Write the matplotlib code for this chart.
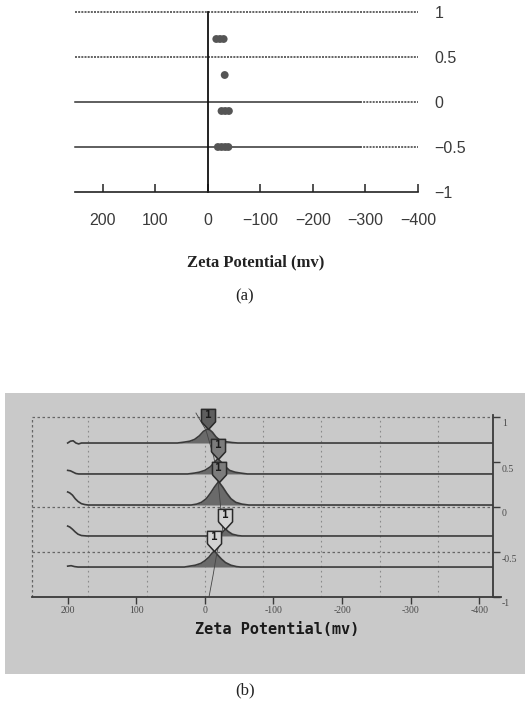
import matplotlib
matplotlib.use('Agg')
import matplotlib.pyplot as plt
from matplotlib.patches import Rectangle
import matplotlib.transforms as mtransforms
import numpy as np

W, H = 531, 706

# ---------------- panel (a) data ----------------
a_xticks = [200, 100, 0, -100, -200, -300, -400]
a_xticklabels = ['200', '100', '0', '\u2212100', '\u2212200', '\u2212300', '\u2212400']
a_yticks = [1, 0.5, 0, -0.5, -1]
a_yticklabels = ['1', '0.5', '0', '\u22120.5', '\u22121']
a_dot_x = [-16, -23, -30, -32, -26, -33, -40, -19, -26, -33, -39]
a_dot_y = [0.7, 0.7, 0.7, 0.3, -0.1, -0.1, -0.1, -0.5, -0.5, -0.5, -0.5]
a_dotted_levels = [1, 0.5]
a_solid_levels = [0, -0.5]

# ---------------- panel (b) data ----------------
b_xticks = [200, 100, 0, -100, -200, -300, -400]
b_xticklabels = ['200', '100', '0', '-100', '-200', '-300', '-400']
b_yticks = [1, 0.5, 0, -0.5, -1]
b_yticklabels = ['1', '0.5', '0', '-0.5', '-1']
b_vgrid = [170, 85, 0, -85, -170, -255, -340]
b_hgrid = [1, 0, -0.5]
b_baselines = [0.711, 0.367, 0.022, -0.322, -0.667]

t1_x = [200, 196, 192, 188, 184, 180, 40, 30, 22, 15, 8, 2, -5, -11, -16, -22, -30, -40, -48, -420]
t1_dy = [0.0, 0.02, 0.025, 0.0, -0.01, 0.0, 0.0, 0.01, 0.02, 0.04, 0.08, 0.13, 0.16, 0.12, 0.07, 0.03, 0.015, 0.005, 0.0, 0.0]
t2_x = [200, 196, 192, 188, 184, 25, 15, 8, 0, -8, -14, -19, -24, -30, -36, -44, -52, -62, -420]
t2_dy = [0.04, 0.035, 0.02, 0.005, 0.0, 0.0, 0.01, 0.02, 0.04, 0.08, 0.13, 0.17, 0.13, 0.08, 0.04, 0.02, 0.01, 0.0, 0.0]
t3_x = [200, 197, 193, 189, 185, 180, 175, 170, 20, 12, 5, -2, -8, -14, -20, -26, -32, -38, -45, -54, -64, -420]
t3_dy = [0.145, 0.135, 0.11, 0.07, 0.04, 0.015, 0.005, 0.0, 0.0, 0.01, 0.03, 0.07, 0.13, 0.2, 0.26, 0.2, 0.13, 0.07, 0.03, 0.01, 0.0, 0.0]
t4_x = [200, 197, 193, 189, 185, 180, 172, -18, -23, -27, -30, -34, -40, -48, -54, -420]
t4_dy = [0.11, 0.10, 0.075, 0.045, 0.02, 0.005, 0.0, 0.0, 0.02, 0.05, 0.08, 0.05, 0.02, 0.005, 0.0, 0.0]
t5_x = [200, 195, 190, 185, 30, 22, 14, 6, 0, -6, -10, -14, -18, -24, -30, -38, -46, -52, -420]
t5_dy = [0.01, 0.015, 0.005, 0.0, 0.0, 0.01, 0.02, 0.04, 0.07, 0.11, 0.15, 0.18, 0.14, 0.09, 0.05, 0.02, 0.005, 0.0, 0.0]
traces_x = [t1_x, t2_x, t3_x, t4_x, t5_x]
traces_dy = [t1_dy, t2_dy, t3_dy, t4_dy, t5_dy]

b_badge_x = [-5, -19, -20, -30, -14]
b_badge_y = [0.871, 0.537, 0.282, -0.242, -0.487]
b_badge_fill = ['#5e5e5e', '#7c7c7c', '#7c7c7c', '#d4d4d4', '#d4d4d4']
b_badge_text = ['1', '1', '1', '1', '1']

trend_x = [13, -1.5, -13, -19, -23, -26, -17.5, -12, -6]
trend_y = [1.044, 0.856, 0.556, 0.30, 0.0, -0.256, -0.51, -0.756, -1.0]

# ---------------- figure ----------------
fig = plt.figure(figsize=(W / 100, H / 100), dpi=100)
fig.patch.set_facecolor('white')

def fx(px):
    return px / W

def fy(py):
    return 1 - py / H

# ---- panel (a) ----
axa = fig.add_axes([fx(75), fy(192), (418 - 75) / W, (192 - 12) / H])
axa.set_xlim(253, -400)
axa.set_ylim(-1, 1)
axa.patch.set_alpha(0)
for s in ['top', 'left', 'right']:
    axa.spines[s].set_visible(False)
axa.spines['bottom'].set_color('#222222')
axa.spines['bottom'].set_linewidth(1.2)

for lv in a_dotted_levels:
    axa.plot([253, -400], [lv, lv], color='#4a4a4a', lw=1.2, ls=(0, (1.2, 0.7)), clip_on=False)
for lv in a_solid_levels:
    axa.plot([253, -290], [lv, lv], color='#333333', lw=1.1, clip_on=False)
    axa.plot([-290, -400], [lv, lv], color='#4a4a4a', lw=1.2, ls=(0, (1.2, 0.7)), clip_on=False)
axa.plot([0, 0], [-1, 1], color='#111111', lw=1.3, clip_on=False)

axa.scatter(a_dot_x, a_dot_y, s=32, color='#555555', edgecolors='none', zorder=3)

axa.set_xticks(a_xticks)
axa.set_xticklabels(a_xticklabels)
axa.yaxis.tick_right()
axa.set_yticks(a_yticks)
axa.set_yticklabels(a_yticklabels)
axa.tick_params(axis='x', direction='in', length=6, width=1.1, color='#222222',
                pad=15, labelsize=11.5, labelcolor='#3a3a3a')
axa.tick_params(axis='y', length=0, pad=12, labelsize=11.5, labelcolor='#3a3a3a')
for lab in axa.get_xticklabels() + axa.get_yticklabels():
    lab.set_fontfamily('Liberation Sans')
axa.set_xlabel('Zeta Potential (mv)', fontfamily='Liberation Serif', fontweight='bold',
               fontsize=12, color='#222222')
axa.xaxis.set_label_coords((256 - 75) / (418 - 75), (192 - 262) / 180)
axa.xaxis.label.set_va('center')

fig.text(fx(245), fy(296), '(a)', ha='center', va='center', fontsize=12,
         fontfamily='Liberation Serif', color='#222222')

# ---- panel (b) background ----
bg = Rectangle((fx(5), fy(674)), 520 / W, (674 - 393) / H,
               transform=fig.transFigure, facecolor='#c9c9c9',
               edgecolor='none', zorder=-5)
fig.patches.append(bg)

axb = fig.add_axes([fx(32), fy(597), (493 - 32) / W, (597 - 408) / H])
axb.set_zorder(2)
axb.set_xlim(252, -420)
axb.set_ylim(-1, 1.1)
axb.patch.set_alpha(0)
axb.spines['top'].set_visible(False)
axb.spines['left'].set_visible(False)
axb.spines['right'].set_bounds(-1, 1.02)
axb.spines['bottom'].set_bounds(252, -431)
for s in ['right', 'bottom']:
    axb.spines[s].set_color('#3a3a3a')
    axb.spines[s].set_linewidth(1.3)

for gx in b_vgrid:
    axb.plot([gx, gx], [-1, 1], color='#8a8a8a', lw=0.8, ls=(0, (1.5, 3)), zorder=1)
for gy in b_hgrid:
    axb.plot([252, -420], [gy, gy], color='#666666', lw=0.9, ls=(0, (2, 2)), zorder=1)
axb.plot([252, 252], [-1, 1], color='#666666', lw=0.9, ls=(0, (2, 2)), zorder=1, clip_on=False)

for tx, tdy, base in zip(traces_x, traces_dy, b_baselines):
    tx = np.array(tx, dtype=float)
    ty = base + np.array(tdy, dtype=float)
    axb.fill_between(tx, base, ty, where=tx < 100, color='#6a6a6a', lw=0, zorder=2)
    axb.plot(tx, ty, color='#3a3a3a', lw=1.2, zorder=3)

axb.plot(trend_x, trend_y, color='#444444', lw=0.6, zorder=4, clip_on=False)

badge_verts = [(-0.35, 0.38), (-0.35, 1.0), (0.35, 1.0), (0.35, 0.38), (0.0, 0.0), (-0.35, 0.38)]
ms = 29
for bx, by, bf, bt in zip(b_badge_x, b_badge_y, b_badge_fill, b_badge_text):
    axb.plot([bx], [by], marker=badge_verts, markersize=ms, markerfacecolor=bf,
             markeredgecolor='#2a2a2a', markeredgewidth=1.1, ls='none', zorder=5, clip_on=False)
    axb.annotate(bt, xy=(bx, by), xytext=(0, 0.69 * 0.5 * ms), textcoords='offset points',
                 ha='center', va='center', fontsize=8, fontweight='bold',
                 fontfamily='DejaVu Sans Mono', color='#1a1a1a', zorder=6)

axb.set_xticks(b_xticks)
axb.set_xticklabels(b_xticklabels)
axb.yaxis.tick_right()
axb.set_yticks(b_yticks)
axb.set_yticklabels(b_yticklabels)
axb.tick_params(axis='x', direction='out', length=5, width=1.0, color='#3a3a3a',
                pad=1.5, labelsize=7, labelcolor='#4a4a4a')
axb.tick_params(axis='y', direction='out', length=5, width=1.0, color='#3a3a3a',
                pad=1.5, labelsize=7, labelcolor='#4a4a4a')
for lab in axb.get_xticklabels() + axb.get_yticklabels():
    lab.set_fontfamily('Liberation Serif')
off = mtransforms.ScaledTranslation(0, -6 / 100, fig.dpi_scale_trans)
for lab in axb.get_yticklabels():
    lab.set_transform(lab.get_transform() + off)

axb.set_xlabel('Zeta Potential(mv)', fontfamily='DejaVu Sans Mono', fontweight='bold',
               fontsize=11, color='#1a1a1a')
axb.xaxis.set_label_coords((277 - 32) / (493 - 32), (597 - 630) / (597 - 408))
axb.xaxis.label.set_va('center')

fig.text(fx(245), fy(690), '(b)', ha='center', va='center', fontsize=12,
         fontfamily='Liberation Serif', color='#222222')

fig.savefig('out.png', dpi=100)
